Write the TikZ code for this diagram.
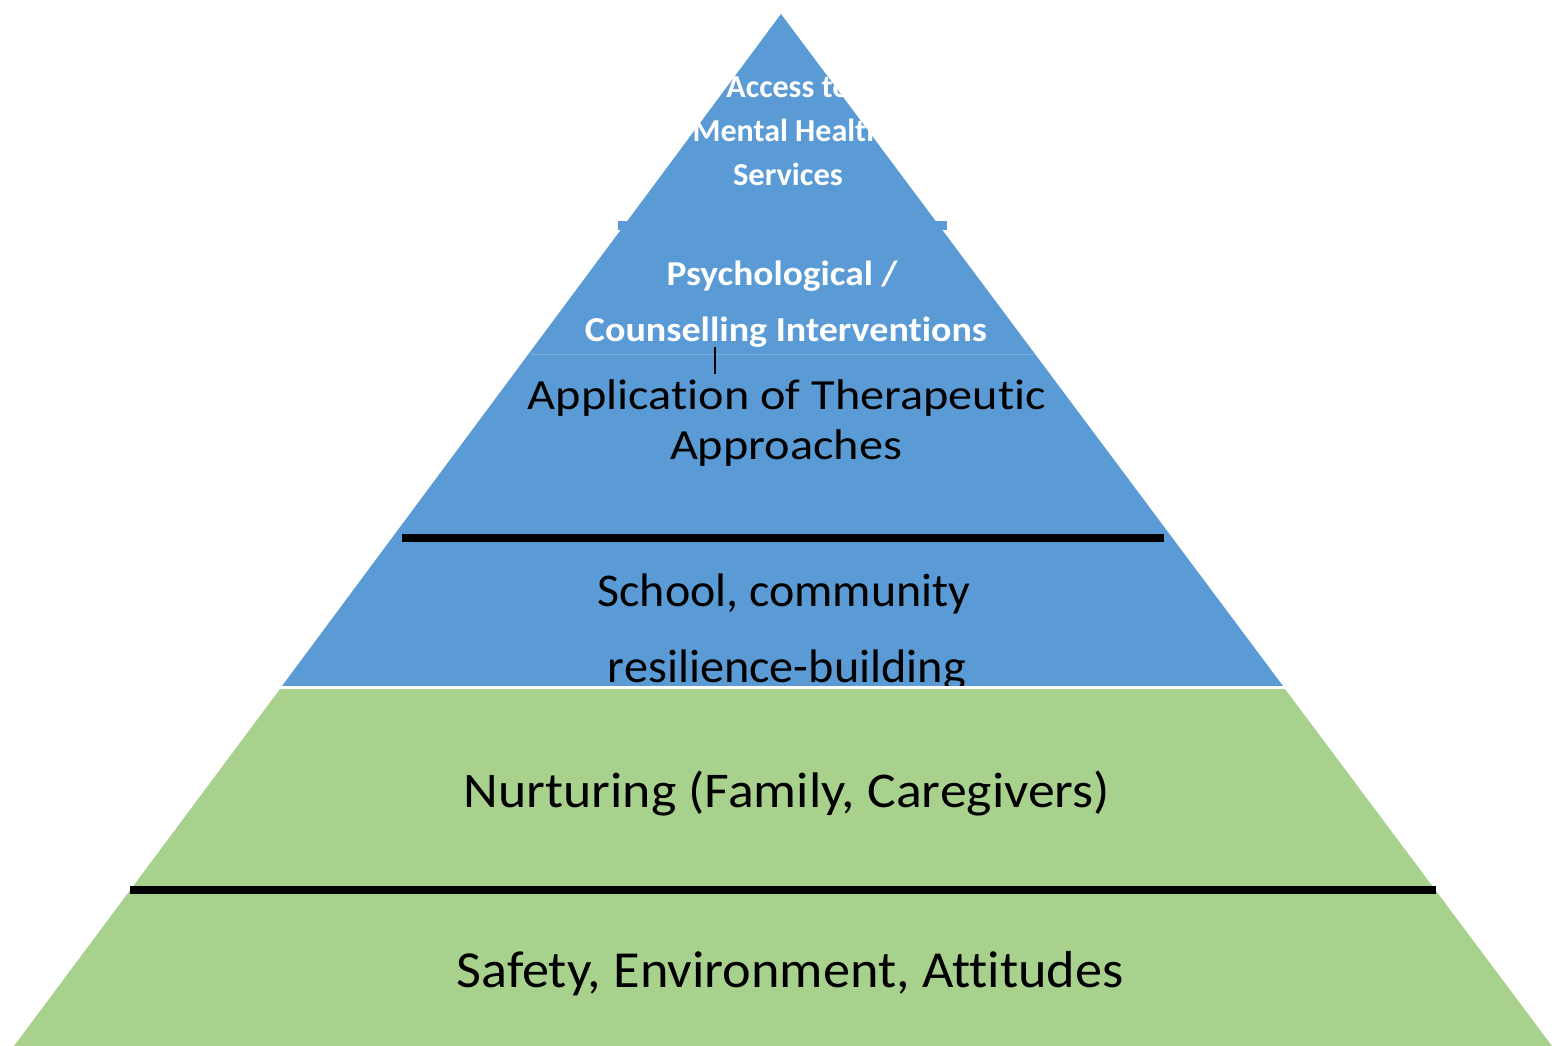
\documentclass[tikz,border=0pt]{standalone}
\usepackage{fontspec}
\setmainfont{Carlito}[Ligatures=NoCommon]
\usepackage{graphicx}
\usepackage{tikz}

\definecolor{tierblue}{RGB}{91,155,213}
\definecolor{tiergreen}{RGB}{169,209,142}

% squeeze a line of text to a given width, keeping its height
\newcommand{\fitw}[2]{\resizebox{#1}{\height}{#2}}

\tikzset{
  tiertext/.style={anchor=base, inner sep=0pt, text=black},
  toptext/.style={anchor=base, inner sep=0pt, text=white, font=\bfseries},
  bar/.style={line width=8pt, black}
}

\begin{document}
\begin{tikzpicture}[x=1pt, y=-1pt]
\useasboundingbox (0,0) rectangle (1552,1046);

% upper (blue) part of the pyramid
\fill[tierblue] (781,14) -- (282,686) -- (1283,686) -- cycle;
\fill[tierblue] (618,221) rectangle (947,230);
\draw[tierblue!80!white, line width=1pt] (530,354) -- (1034,354);

\node[toptext, font=\bfseries\fontsize{32}{40}\selectfont] (acc1) at (788,98) {Access to};
\node[toptext, font=\bfseries\fontsize{32}{40}\selectfont] (acc2) at (788,142) {Mental Health};
\node[toptext, font=\bfseries\fontsize{32}{40}\selectfont] (acc3) at (788,185) {\fitw{110pt}{Services}};

\node[toptext, font=\bfseries\fontsize{35}{42}\selectfont] (psy1) at (782,285) {\fitw{231pt}{Psychological /}};
\node[toptext, font=\bfseries\fontsize{35}{42}\selectfont] (psy2) at (786,341) {\fitw{402pt}{Counselling Interventions}};

\node[tiertext, font=\fontsize{43}{50}\selectfont] (app1) at (787,409) {\fitw{518pt}{Application of Therapeutic}};
\node[tiertext, font=\fontsize{43}{50}\selectfont] (app2) at (786,459) {\fitw{232pt}{Approaches}};

\node[tiertext, font=\fontsize{47}{56}\selectfont] (sch1) at (784,606) {\fitw{373pt}{School, community}};
\node[tiertext, font=\fontsize{47}{56}\selectfont] (sch2) at (787,682) {\fitw{358pt}{resilience-building}};

\draw[black, line width=2pt] (715,347) -- (715,374);

% gap and lower (green) part
\fill[white] (0,686) rectangle (1552,689);
\fill[tiergreen] (280,689) -- (1285,689) -- (1552,1046) -- (14,1046) -- cycle;

\draw[bar] (402,538) -- (1164,538);
\draw[bar] (130,890) -- (1436,890);

\node[tiertext, font=\fontsize{50}{60}\selectfont] (nur) at (787,807) {\fitw{646pt}{Nurturing (Family, Caregivers)}};
\node[tiertext, font=\fontsize{52}{62}\selectfont] (saf) at (790,987) {\fitw{667pt}{Safety, Environment, Attitudes}};
\end{tikzpicture}
\end{document}
